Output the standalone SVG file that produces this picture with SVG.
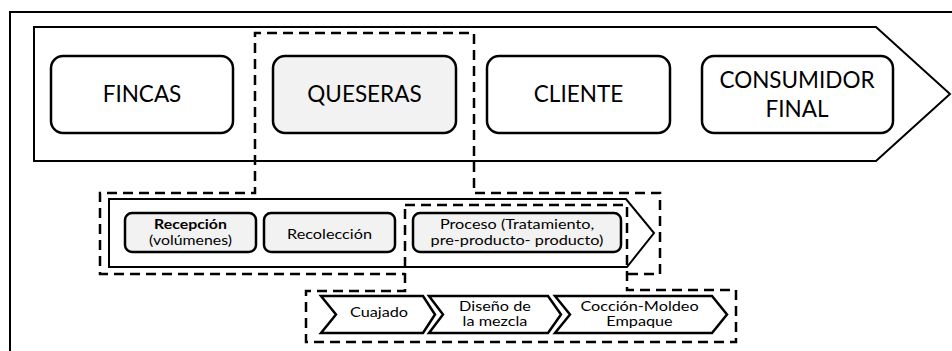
<svg xmlns="http://www.w3.org/2000/svg" width="952" height="351" viewBox="0 0 952 351">
<style>
.frame{fill:none;stroke:#000;stroke-width:2}
.arrow{fill:#fff;stroke:#000;stroke-width:2}
.box{fill:#fff;stroke:#000;stroke-width:2.5}
.gbox{fill:#f2f2f2;stroke:#000;stroke-width:2.5}
.dash{fill:none;stroke:#000;stroke-width:2.5;stroke-dasharray:10 6}
.chev{fill:#fff;stroke:#000;stroke-width:2.5;stroke-linejoin:miter}
text{font-family:Lato,"Liberation Sans",sans-serif;fill:#000;text-anchor:middle}
.big{font-size:22.5px}
.sm{font-size:13px}
.b{font-weight:bold}
</style>
<rect width="952" height="351" fill="#fff"/>
<path class="frame" d="M10,360 V12 H960"/>
<g id="cadena">
<path class="arrow" d="M34,27 H876 L950,94 L876,161 H34 Z"/>
</g>
<g id="fincas">
<rect class="box" x="51" y="56" width="182" height="77" rx="12"/>
<text class="big" x="142" y="102">FINCAS</text>
</g>
<g id="queseras">
<rect class="gbox" x="273" y="56" width="183" height="77" rx="12"/>
<text class="big" x="364.5" y="102">QUESERAS</text>
</g>
<g id="cliente">
<rect class="box" x="487" y="56" width="183" height="77" rx="12"/>
<text class="big" x="578.5" y="102">CLIENTE</text>
</g>
<g id="consumidor">
<rect class="box" x="702" y="56" width="191" height="77" rx="12"/>
<text class="big" x="797" y="88">CONSUMIDOR</text>
<text class="big" x="797" y="117">FINAL</text>
</g>
<g id="proceso-queseras">
<path class="arrow" d="M109,199 H626 L654,233 L627,267 H109 Z"/>
</g>
<g id="recepcion">
<rect class="gbox" x="125" y="213" width="131" height="39" rx="7"/>
<g transform="translate(190.5,229) scale(1.22,1)">
<text class="sm b" x="0" y="0">Recepción</text>
<text class="sm" x="0" y="16">(volúmenes)</text>
</g>
</g>
<g id="recoleccion">
<rect class="gbox" x="264" y="213" width="131" height="39" rx="7"/>
<g transform="translate(329.5,239) scale(1.25,1)">
<text class="sm" x="0" y="0">Recolección</text>
</g>
</g>
<g id="proceso">
<rect class="gbox" x="413" y="213" width="208" height="39" rx="7"/>
<g transform="translate(517,229) scale(1.25,1)">
<text class="sm" x="0" y="0">Proceso (Tratamiento,</text>
<text class="sm" x="0" y="16">pre-producto- producto)</text>
</g>
</g>
<g id="cuajado">
<path class="chev" d="M321,296 H423 L435,314.5 L423,333 H321 L336,314.5 Z"/>
<g transform="translate(379,317) scale(1.25,1)">
<text class="sm" x="0" y="0">Cuajado</text>
</g>
</g>
<g id="diseno">
<path class="chev" d="M429,296 H548 L561,314.5 L548,333 H429 L443,314.5 Z"/>
<g transform="translate(495,311) scale(1.25,1)">
<text class="sm" x="0" y="0">Diseño  de</text>
<text class="sm" x="0" y="15.5">la mezcla</text>
</g>
</g>
<g id="coccion">
<path class="chev" d="M555,296 H712 L727,314.5 L712,333 H555 L570,314.5 Z"/>
<g transform="translate(639.5,311) scale(1.25,1)">
<text class="sm" x="0" y="0">Cocción-Moldeo</text>
<text class="sm" x="0" y="15.5">Empaque</text>
</g>
</g>
<g id="conectores">
<path class="dash" d="M628,274 H660 V193 H474 V33 H255 V193 H100 V274 H405"/>
<path class="dash" d="M405,205 H627 V290 H736 V342 H306 V291 H405 Z"/>
</g>
</svg>
